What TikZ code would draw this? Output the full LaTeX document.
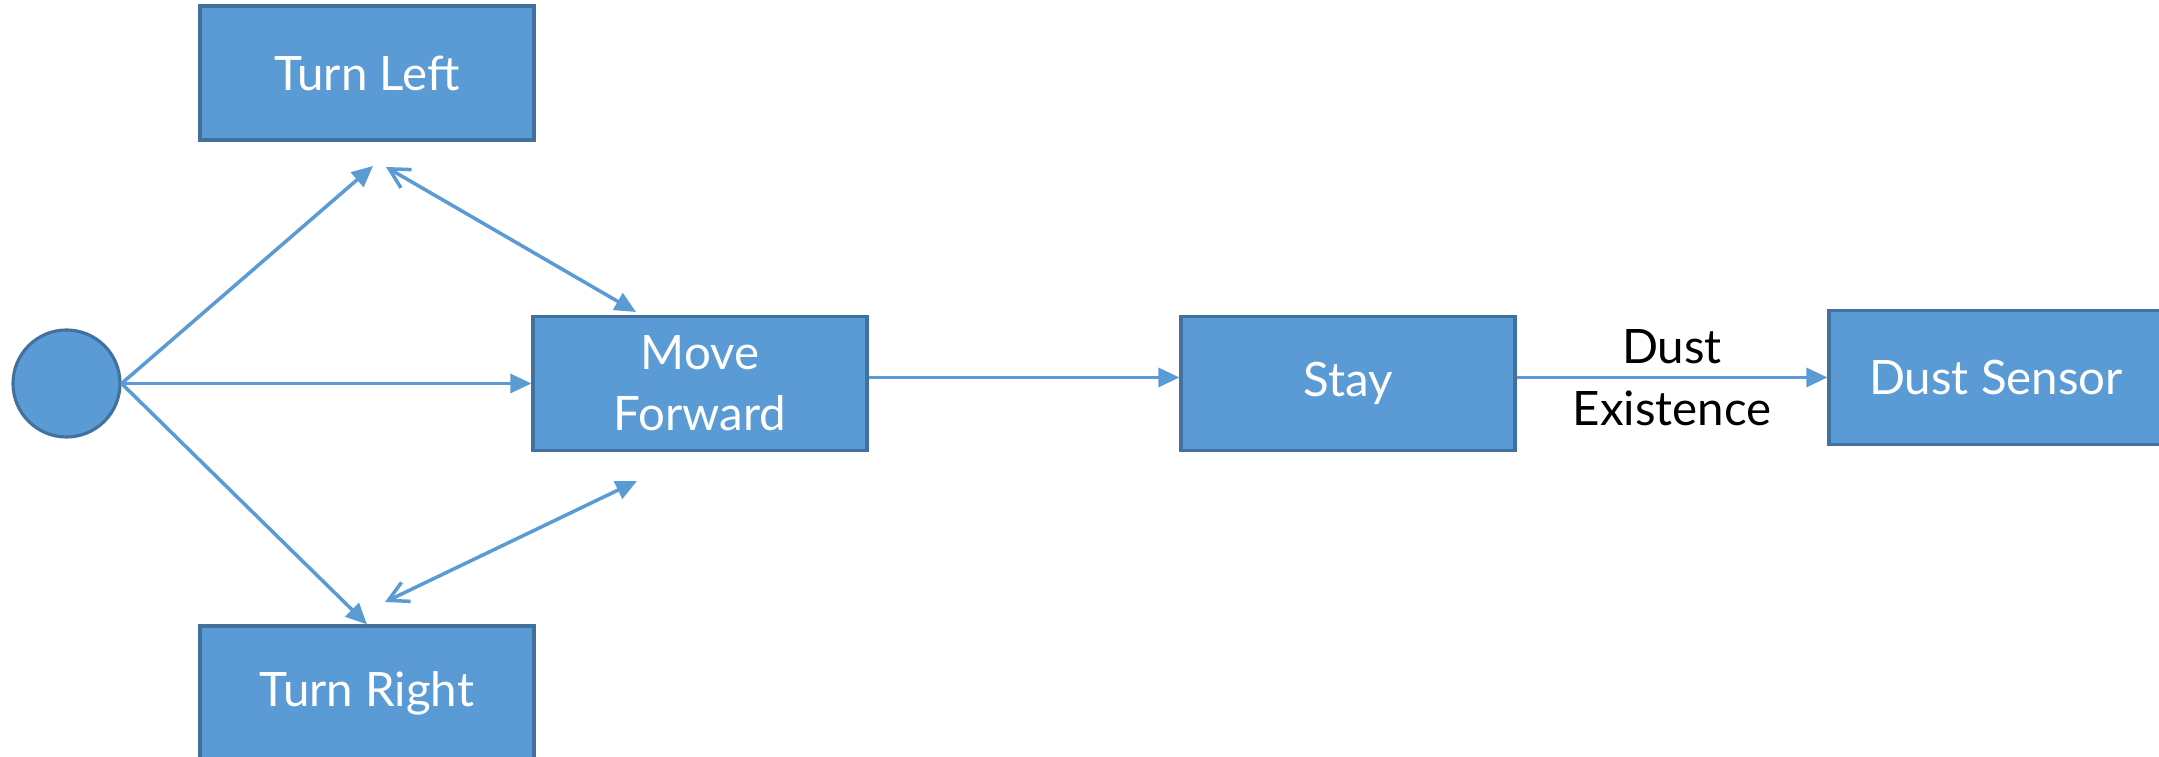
\documentclass[tikz,border=0pt]{standalone}
\usepackage{fontspec}
\setmainfont{Lato}
\usepackage{tikz}
\usetikzlibrary{shapes,arrows.meta,positioning}
\definecolor{boxblue}{HTML}{5B9BD5}
\definecolor{boxedge}{HTML}{41719C}
\tikzstyle{block} = [rectangle, draw=boxedge, line width=0.9pt, fill=boxblue, text=white,
    minimum width=3.34cm, minimum height=1.34cm, align=center]
\tikzstyle{startpoint} = [circle, draw=boxedge, line width=0.9pt, fill=boxblue,
    minimum size=1.07cm, inner sep=0pt]
\tikzstyle{line} = [draw=boxblue, line width=1pt, -{Triangle[length=6pt,width=5.4pt]}]
\tikzstyle{twoway} = [draw=boxblue, line width=1pt,
    {Straight Barb[length=5.6pt,width=6pt]}-{Triangle[length=6pt,width=5.4pt]}]

\begin{document}
\begin{tikzpicture}[node distance = 6.48cm, auto, font=\fontsize{13.5}{17.3}\selectfont]
    \useasboundingbox (0,0) rectangle (21.59,-7.57);
    % Place nodes
    \node [startpoint] (start) at (0.665,-3.835) {};
    \node [block] (forward) at (7.00,-3.835) {Move\\Forward};
    \node [block, right of=forward] (stay) {Stay};
    \node [block, right of=stay, yshift=0.06cm] (sensor) {Dust Sensor};
    \node [block] (turnleft) at (3.67,-0.73) {Turn Left};
    \node [block] (turnright) at (3.67,-6.93) {Turn Right};
    % Free ends of the arrows near the turn boxes
    \coordinate (leftin) at (3.73,-1.66);
    \coordinate (leftout) at (3.86,-1.67);
    \coordinate (fwdtop) at (6.36,-3.12);
    \coordinate (fwdbot) at (6.37,-4.81);
    \coordinate (rightout) at (3.85,-6.02);
    % Draw edges
    \path [line] (start.east) -- (leftin);
    \path [line] (start.east) -- (forward.west);
    \path [line] (start.east) -- (turnright.north);
    \path [twoway] (leftout) -- (fwdtop);
    \path [twoway] (rightout) -- (fwdbot);
    \path [line] ([yshift=0.06cm]forward.east) -- ([yshift=0.06cm]stay.west);
    \path [line] ([yshift=0.06cm]stay.east) -- node [above] {Dust} node [below] {Existence} (sensor.west);
\end{tikzpicture}
\end{document}
